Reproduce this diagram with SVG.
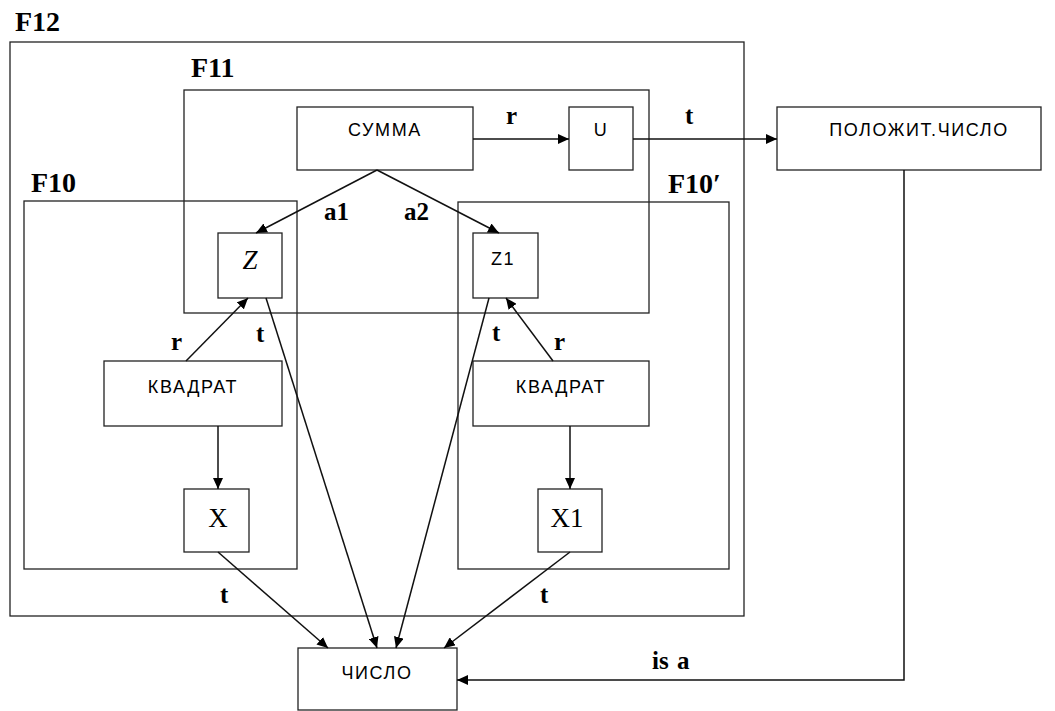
<svg xmlns="http://www.w3.org/2000/svg" width="1055" height="711" viewBox="0 0 1055 711">
<style>
.frame{fill:none;stroke:#222;stroke-width:1.3}
.box{fill:#fff;stroke:#222;stroke-width:1.3}
.edge{fill:none;stroke:#111;stroke-width:1.5}
.flab{font-family:"Liberation Serif",serif;font-weight:bold;font-size:28px;fill:#000}
.elab{font-family:"Liberation Serif",serif;font-weight:bold;font-size:25px;fill:#000}
.sans{font-family:"Liberation Sans",sans-serif;font-size:18px;letter-spacing:1.6px;fill:#000}
.ser{font-family:"Liberation Serif",serif;font-size:27px;fill:#000}
</style>
<defs>
<marker id="ah" markerUnits="userSpaceOnUse" markerWidth="12" markerHeight="10" refX="11" refY="5" orient="auto">
<path d="M0,0 L11,5 L0,10 z" fill="#000"/>
</marker>
</defs>
<rect width="1055" height="711" fill="#fff"/>
<g id="F12"><rect class="frame" x="10" y="42" width="734" height="574"/><text class="flab" x="15" y="31">F12</text></g>
<g id="F11"><rect class="frame" x="184" y="90" width="465" height="223"/><text class="flab" x="191" y="77">F11</text></g>
<g id="F10"><rect class="frame" x="24" y="201" width="273" height="368"/><text class="flab" x="31" y="192">F10</text></g>
<g id="F10p"><rect class="frame" x="458" y="202" width="271" height="367"/><text class="flab" x="668" y="193">F10′</text></g>

<g id="summa"><rect class="box" x="297" y="107" width="176" height="63"/><text class="sans" x="385" y="136" text-anchor="middle">СУММА</text></g>
<g id="u"><rect class="box" x="569" y="107" width="64" height="63"/><text class="sans" x="601" y="136" text-anchor="middle">U</text></g>
<g id="polozh"><rect class="box" x="777" y="107" width="264" height="63"/><text class="sans" x="919" y="136" text-anchor="middle">ПОЛОЖИТ.ЧИСЛО</text></g>
<g id="z"><rect class="box" x="218" y="233" width="64" height="65"/><text class="ser" x="250" y="269" text-anchor="middle" font-style="italic" font-size="24">Z</text></g>
<g id="z1"><rect class="box" x="473" y="233" width="65" height="65"/><text class="sans" x="503" y="265" text-anchor="middle" font-size="15" letter-spacing="0">Z1</text></g>
<g id="kvadrat1"><rect class="box" x="104" y="361" width="178" height="65"/><text class="sans" x="193" y="393" text-anchor="middle">КВАДРАТ</text></g>
<g id="kvadrat2"><rect class="box" x="473" y="361" width="176" height="65"/><text class="sans" x="561" y="393" text-anchor="middle">КВАДРАТ</text></g>
<g id="x"><rect class="box" x="184" y="489" width="65" height="63"/><text class="ser" x="218" y="527" text-anchor="middle">X</text></g>
<g id="x1"><rect class="box" x="538" y="489" width="64" height="63"/><text class="ser" x="567" y="527" text-anchor="middle">X1</text></g>
<g id="chislo"><rect class="box" x="298" y="648" width="159" height="62"/><text class="sans" x="377" y="679" text-anchor="middle">ЧИСЛО</text></g>

<g id="connectors">
<line class="edge" x1="473" y1="139" x2="569" y2="139" marker-end="url(#ah)"/>
<line class="edge" x1="633" y1="139" x2="777" y2="139" marker-end="url(#ah)"/>
<line class="edge" x1="377" y1="170" x2="256" y2="233" marker-end="url(#ah)"/>
<line class="edge" x1="377" y1="170" x2="499" y2="233" marker-end="url(#ah)"/>
<line class="edge" x1="186" y1="361" x2="248" y2="298" marker-end="url(#ah)"/>
<line class="edge" x1="553" y1="361" x2="506" y2="298" marker-end="url(#ah)"/>
<line class="edge" x1="218" y1="426" x2="218" y2="489" marker-end="url(#ah)"/>
<line class="edge" x1="570" y1="426" x2="570" y2="489" marker-end="url(#ah)"/>
<line class="edge" x1="266" y1="298" x2="377" y2="648" marker-end="url(#ah)"/>
<line class="edge" x1="489" y1="298" x2="396" y2="648" marker-end="url(#ah)"/>
<line class="edge" x1="218" y1="552" x2="328" y2="648" marker-end="url(#ah)"/>
<line class="edge" x1="570" y1="552" x2="444" y2="648" marker-end="url(#ah)"/>
<polyline class="edge" points="904,170 904,680 457,680" marker-end="url(#ah)"/>
<text class="elab" x="506" y="124">r</text>
<text class="elab" x="685" y="124">t</text>
<text class="elab" x="324" y="220">a1</text>
<text class="elab" x="404" y="220">a2</text>
<text class="elab" x="171" y="350">r</text>
<text class="elab" x="256" y="342">t</text>
<text class="elab" x="492" y="341">t</text>
<text class="elab" x="554" y="350">r</text>
<text class="elab" x="220" y="603">t</text>
<text class="elab" x="540" y="603">t</text>
<text class="elab" x="652" y="669" word-spacing="2">is a</text>
</g>
</svg>
